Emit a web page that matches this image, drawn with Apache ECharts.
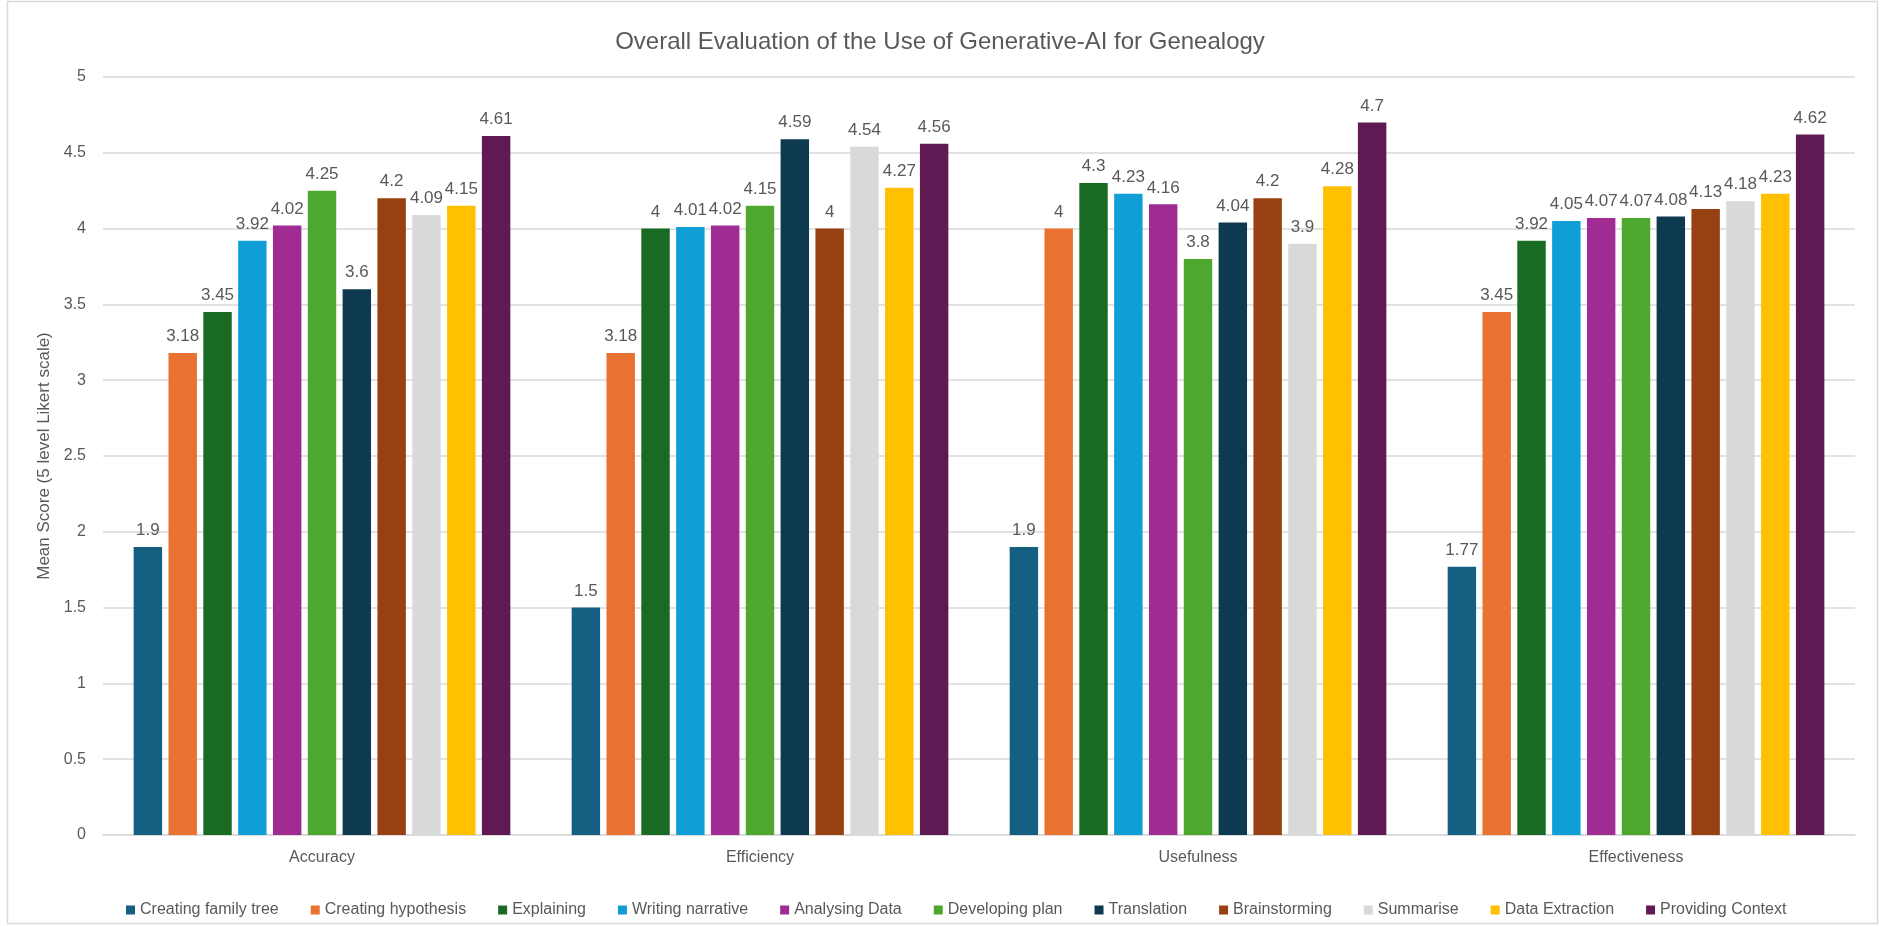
<!DOCTYPE html>
<html>
<head>
<meta charset="utf-8">
<title>Overall Evaluation of the Use of Generative-AI for Genealogy</title>
<script src="https://cdn.jsdelivr.net/npm/echarts@6/dist/echarts.min.js"></script>
<style>
  html, body { margin: 0; padding: 0; background: #ffffff; }
  #chart { width: 1880px; height: 926px; }
</style>
</head>
<body>
<div id="chart"></div>
<script>
// Evaluation dimensions (x-axis groups)
const categories = ['Accuracy', 'Efficiency', 'Usefulness', 'Effectiveness'];

// Tasks (one bar series each), in legend order
const taskNames = [
  'Creating family tree', 'Creating hypothesis', 'Explaining', 'Writing narrative',
  'Analysing Data', 'Developing plan', 'Translation', 'Brainstorming',
  'Summarise', 'Data Extraction', 'Providing Context'
];

// Mean scores per task: [Accuracy, Efficiency, Usefulness, Effectiveness]
const creatingFamilyTree = [1.9, 1.5, 1.9, 1.77];
const creatingHypothesis = [3.18, 3.18, 4, 3.45];
const explaining         = [3.45, 4, 4.3, 3.92];
const writingNarrative   = [3.92, 4.01, 4.23, 4.05];
const analysingData      = [4.02, 4.02, 4.16, 4.07];
const developingPlan     = [4.25, 4.15, 3.8, 4.07];
const translation        = [3.6, 4.59, 4.04, 4.08];
const brainstorming      = [4.2, 4, 4.2, 4.13];
const summarise          = [4.09, 4.54, 3.9, 4.18];
const dataExtraction     = [4.15, 4.27, 4.28, 4.23];
const providingContext   = [4.61, 4.56, 4.7, 4.62];

const seriesValues = [
  creatingFamilyTree, creatingHypothesis, explaining, writingNarrative,
  analysingData, developingPlan, translation, brainstorming,
  summarise, dataExtraction, providingContext
];

const palette = [
  '#156082', '#E97132', '#196B24', '#0F9ED5', '#A02B93', '#4EA72E',
  '#0E3A50', '#974011', '#D9D9D9', '#FFC000', '#5F1A54'
];

// Likert scale ticks
const yMin = 0, yMax = 5, yStep = 0.5;

const TEXT = '#595959';
const GRID = '#D9D9D9';
const NARROW = "'Liberation Sans Narrow', 'Liberation Sans', Arial, sans-serif";
const REGULAR = "'Liberation Sans', Arial, sans-serif";

const chart = echarts.init(document.getElementById('chart'), null, { renderer: 'canvas' });

const series = taskNames.map((name, i) => ({
  name: name,
  type: 'bar',
  data: seriesValues[i],
  itemStyle: { color: palette[i] },
  barGap: '22.5%',
  barCategoryGap: '14%',
  label: {
    show: true,
    position: 'top',
    distance: 8,
    color: TEXT,
    fontFamily: REGULAR,
    fontSize: 17
  },
  emphasis: { disabled: true }
}));

chart.setOption({
  backgroundColor: '#ffffff',
  animation: false,
  color: palette,
  title: {
    text: 'Overall Evaluation of the Use of Generative-AI for Genealogy',
    left: 'center',
    top: 25,
    textStyle: { color: TEXT, fontFamily: REGULAR, fontSize: 24, fontWeight: 'normal' }
  },
  legend: {
    data: taskNames,
    left: 121,
    top: 897,
    icon: 'rect',
    itemWidth: 9,
    itemHeight: 9,
    itemGap: 32,
    textStyle: { color: TEXT, fontFamily: NARROW, fontSize: 16 }
  },
  grid: { left: 103, right: 25, top: 77, bottom: 91, containLabel: false },
  xAxis: {
    type: 'category',
    data: categories,
    axisLine: { show: true, lineStyle: { color: GRID, width: 1.5 } },
    axisTick: { show: false },
    axisLabel: { color: TEXT, fontFamily: NARROW, fontSize: 16, margin: 15 },
    splitLine: { show: false }
  },
  yAxis: {
    type: 'value',
    min: yMin,
    max: yMax,
    interval: yStep,
    name: 'Mean Score (5 level Likert scale)',
    nameLocation: 'middle',
    nameGap: 50,
    nameRotate: 90,
    nameTextStyle: { color: TEXT, fontFamily: NARROW, fontSize: 17 },
    axisLine: { show: false },
    axisTick: { show: false },
    axisLabel: { color: TEXT, fontFamily: REGULAR, fontSize: 16, margin: 17 },
    splitLine: { show: true, lineStyle: { color: GRID, width: 1.5 } }
  },
  graphic: [{
    type: 'rect',
    silent: true,
    shape: { x: 7.5, y: 1.5, width: 1870, height: 922 },
    style: { fill: 'none', stroke: GRID, lineWidth: 1.5 }
  }],
  series: series
});
</script>
</body>
</html>
